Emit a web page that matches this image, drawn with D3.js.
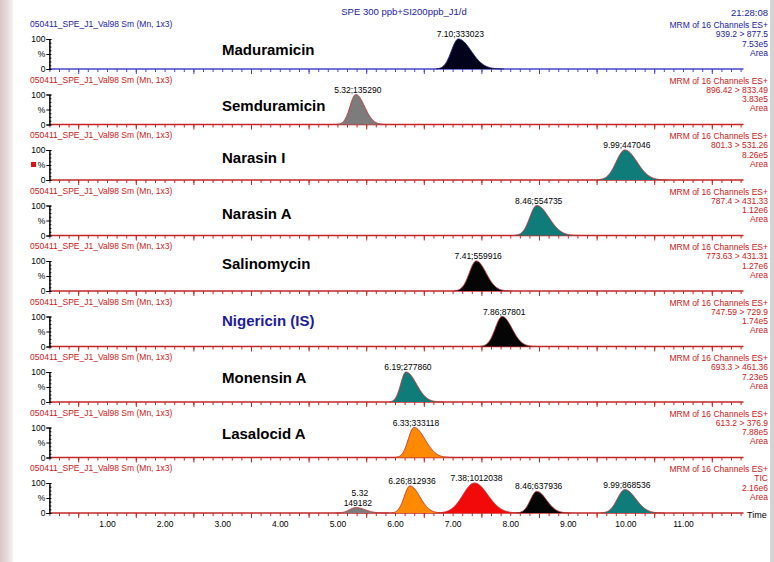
<!DOCTYPE html>
<html>
<head>
<meta charset="utf-8">
<script src="https://cdn.jsdelivr.net/npm/d3@7"></script>
<style>
  body { margin: 0; background: #fff; }
  svg { display: block; }
  text { font-family: "Liberation Sans", Arial, sans-serif; }
</style>
</head>
<body>
<svg id="chart" width="774" height="562"></svg>
<script>
// ---- run information ----
const runTitle = "SPE 300 ppb+SI200ppb_J1/d";
const acquisitionTime = "21:28:08";
const sampleName = "050411_SPE_J1_Val98 Sm (Mn, 1x3)";
const scanFunction = "MRM of 16 Channels ES+";

// ---- one trace per channel, last one is the TIC ----
const compounds = ["Maduramicin", "Semduramicin", "Narasin I", "Narasin A", "Salinomycin",
                   "Nigericin (IS)", "Monensin A", "Lasalocid A", ""];
const transitions = ["939.2 > 877.5", "896.42 > 833.49", "801.3 > 531.26", "787.4 > 431.33",
                     "773.63 > 431.31", "747.59 > 729.9", "693.3 > 461.36", "613.2 > 376.9", "TIC"];
const traceMax = ["7.53e5", "3.83e5", "8.26e5", "1.12e6", "1.27e6", "1.74e5", "7.23e5", "7.88e5", "2.16e6"];

// integrated peaks: retention time (min), area, relative height (%), leading / tailing width (min)
const retentionTimes = [[7.10], [5.32], [9.99], [8.46], [7.41], [7.86], [6.19], [6.33],
                        [5.32, 6.26, 7.38, 8.46, 9.99]];
const peakAreas = [[333023], [135290], [447046], [554735], [559916], [87801], [277860], [333118],
                   [149182, 812936, 1012038, 637936, 868536]];
const peakHeights = [[100], [100], [100], [100], [100], [100], [100], [100],
                     [18, 90, 100, 72, 78]];
const leadingWidth = [[0.12], [0.10], [0.15], [0.12], [0.12], [0.12], [0.09], [0.10],
                      [0.11, 0.10, 0.20, 0.11, 0.13]];
const tailingWidth = [[0.22], [0.15], [0.21], [0.21], [0.17], [0.17], [0.18], [0.19],
                      [0.16, 0.17, 0.23, 0.17, 0.19]];

const timeTicks = [1, 2, 3, 4, 5, 6, 7, 8, 9, 10, 11];

// ---- styling ----
const blueInk = "#2222a8", redInk = "#d01818";
const traceInk = i => (i === 0 ? blueInk : redInk);
const axisInk = i => (i === 0 ? "#4646cc" : "#c42626");
const peakFill = [["#02021a"], ["#7c7c7c"], ["#0f7c79"], ["#0f7c79"], ["#050505"], ["#050505"],
                  ["#0f7c79"], ["#ff8a00"], ["#7c7c7c", "#ff8a00", "#f20a0a", "#050505", "#0f7c79"]];
const peakEdge = i => (i === 0 ? "#1a1a70" : "#c23434");
// vertical placement of each compound name above its baseline (px)
const nameLift = [20, 19.5, 23, 22.5, 28, 26.5, 25, 24.5];

const svg = d3.select("#chart");

// soft frame strips at the page edges
const grad = svg.append("defs").append("linearGradient").attr("id", "edge")
  .attr("x1", 0).attr("x2", 1).attr("y1", 0).attr("y2", 0);
grad.append("stop").attr("offset", 0).attr("stop-color", "#d9c6c6");
grad.append("stop").attr("offset", 0.6).attr("stop-color", "#e9dddd");
grad.append("stop").attr("offset", 1).attr("stop-color", "#f7f2f2");
svg.append("rect").attr("x", 0).attr("y", 0).attr("width", 13).attr("height", 562).attr("fill", "url(#edge)");
svg.append("rect").attr("x", 770).attr("y", 0).attr("width", 4).attr("height", 562).attr("fill", "#d4d4d4");

// shared time scale
const x = d3.scaleLinear().domain([0, 12.05]).range([49.4, 743.5]);
const firstBase = 69, pitch = 55.5, traceHeight = 30;

// header
svg.append("text").attr("x", 404).attr("y", 15).attr("text-anchor", "middle")
  .attr("font-size", 9.5).attr("fill", blueInk).text(runTitle);
svg.append("text").attr("x", 768).attr("y", 16).attr("text-anchor", "end")
  .attr("font-size", 9.5).attr("fill", blueInk).text(acquisitionTime);

const minorTicks = d3.range(0, 73).map(k => k / 6).filter(t => t <= 12.05);
const halfTicks = d3.range(0.5, 12.05, 1);

compounds.forEach((name, i) => {
  const base = firstBase + i * pitch;
  const y = d3.scaleLinear().domain([0, 100]).range([base, base - traceHeight]);
  const g = svg.append("g");
  const ink = traceInk(i), axc = axisInk(i);

  // left caption
  g.append("text").attr("x", 30).attr("y", base - 42).attr("font-size", 8.5)
    .attr("fill", ink).text(sampleName);

  // right-hand channel info
  [scanFunction, transitions[i], traceMax[i], "Area"].forEach((s, k) => {
    g.append("text").attr("x", 768).attr("y", base - 41 + k * 9.3)
      .attr("text-anchor", "end").attr("font-size", 8.5).attr("fill", ink).text(s);
  });

  // baseline and time ticks
  g.append("line").attr("x1", x(0)).attr("x2", x.range()[1]).attr("y1", base).attr("y2", base)
    .attr("stroke", axc).attr("stroke-width", 1.6);
  const tg = g.append("g").attr("transform", `translate(0,${base})`);
  tg.call(d3.axisBottom(x).tickValues(minorTicks).tickSize(3).tickFormat(""));
  tg.append("g").call(d3.axisBottom(x).tickValues(halfTicks).tickSize(5).tickFormat(""));
  tg.selectAll(".domain").remove();
  tg.selectAll("line").attr("stroke", axc);

  // intensity axis
  const ya = g.append("g").attr("transform", `translate(${x(0)},0)`)
    .call(d3.axisLeft(y).tickValues([0, 50, 100]).tickSize(3).tickPadding(1)
      .tickFormat(d => (d === 50 ? "%" : d)));
  ya.append("g").call(d3.axisRight(y).tickValues(d3.range(0, 101, 12.5)).tickSize(2).tickFormat(""));
  ya.selectAll(".domain").attr("stroke", "#000");
  ya.selectAll("line").attr("stroke", "#000");
  ya.selectAll("text").attr("font-size", 8.5).attr("fill", "#000")
    .attr("font-family", "Liberation Sans, Arial, sans-serif");

  if (i === 2) {
    g.append("rect").attr("x", 31).attr("y", base - 18).attr("width", 5).attr("height", 5).attr("fill", "#e01010");
  }

  // peaks
  retentionTimes[i].forEach((rt, p) => {
    const h = peakHeights[i][p], sl = leadingWidth[i][p], sr = tailingWidth[i][p];
    const ts = d3.range(rt - 3.2 * sl, rt + 3.6 * sr, 0.005);
    const pts = ts.map(t => {
      const s = t < rt ? sl : sr;
      return [t, h * Math.exp(-0.5 * ((t - rt) / s) ** 2)];
    });
    const area = d3.area().x(d => x(d[0])).y0(base).y1(d => y(d[1])).curve(d3.curveLinear);
    const line = d3.line().x(d => x(d[0])).y(d => y(d[1]));
    g.append("path").datum(pts).attr("d", area).attr("fill", peakFill[i][p]);
    g.append("path").datum(pts).attr("d", line).attr("fill", "none")
      .attr("stroke", peakEdge(i)).attr("stroke-width", 1);

    const top = y(h) - 2;
    if (i === 8 && p === 0) {
      g.append("text").attr("x", x(rt) + 4).attr("y", top - 10).attr("text-anchor", "middle")
        .attr("font-size", 8.5).text(rt.toFixed(2));
      g.append("text").attr("x", x(rt) + 2).attr("y", top).attr("text-anchor", "middle")
        .attr("font-size", 8.5).text(peakAreas[i][p]);
    } else {
      g.append("text").attr("x", x(rt) + 2).attr("y", top).attr("text-anchor", "middle")
        .attr("font-size", 8.5).attr("fill", "#000")
        .text(`${rt.toFixed(2)};${peakAreas[i][p]}`);
    }
  });

  // compound name
  if (name) {
    g.append("text").attr("x", 222).attr("y", base - nameLift[i] + 5.5).attr("font-size", 15)
      .attr("font-weight", "bold").attr("fill", name.startsWith("Nigericin") ? "#1c1c9c" : "#000")
      .text(name);
  }

  // time labels under the last trace
  if (i === compounds.length - 1) {
    const xa = g.append("g").attr("transform", `translate(0,${base + 5})`)
      .call(d3.axisBottom(x).tickValues(timeTicks).tickSize(0).tickPadding(3).tickFormat(d3.format(".2f")));
    xa.select(".domain").remove();
    xa.selectAll("text").attr("font-size", 8.5).attr("fill", "#000")
      .attr("font-family", "Liberation Sans, Arial, sans-serif");
    g.append("text").attr("x", 747).attr("y", base + 5).attr("font-size", 9).attr("fill", "#000").text("Time");
  }
});
</script>
</body>
</html>
